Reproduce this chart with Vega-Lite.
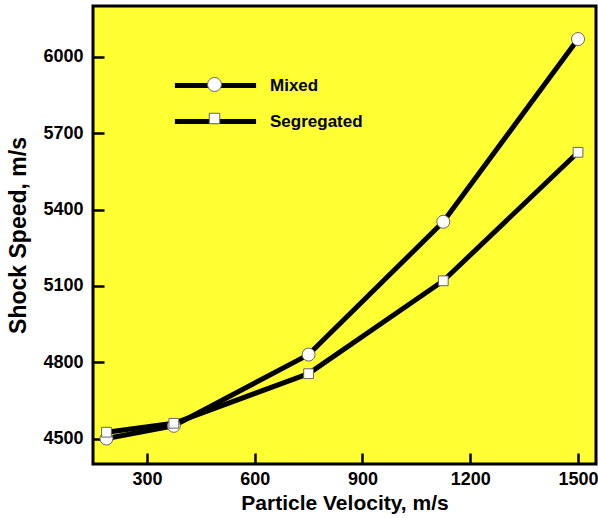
{
  "$schema": "https://vega.github.io/schema/vega-lite/v6.json",
  "width": 503,
  "height": 458,
  "autosize": "none",
  "padding": {"left": 93, "top": 6, "right": 2, "bottom": 54},
  "background": "white",
  "config": {
    "view": {"fill": "#FFFF33", "stroke": "black", "strokeWidth": 3},
    "font": "Liberation Sans",
    "axis": {
      "labelFont": "Liberation Sans",
      "labelFontWeight": "bold",
      "labelFontSize": 18,
      "labelColor": "black",
      "titleFont": "Liberation Sans",
      "titleFontWeight": "bold",
      "titleColor": "black",
      "grid": false,
      "domain": false,
      "tickColor": "black",
      "tickWidth": 2.5,
      "tickSize": -11,
      "format": "d"
    },
    "legend": {
      "labelFont": "Liberation Sans",
      "labelFontWeight": "bold",
      "labelFontSize": 17,
      "labelColor": "black"
    }
  },
  "data": {
    "values": [
      {"v": 187.5, "s": 4500, "series": "Mixed"},
      {"v": 375, "s": 4550, "series": "Mixed"},
      {"v": 750, "s": 4830, "series": "Mixed"},
      {"v": 1125, "s": 5352, "series": "Mixed"},
      {"v": 1500, "s": 6070, "series": "Mixed"},
      {"v": 187.5, "s": 4525, "series": "Segregated"},
      {"v": 375, "s": 4560, "series": "Segregated"},
      {"v": 750, "s": 4755, "series": "Segregated"},
      {"v": 1125, "s": 5120, "series": "Segregated"},
      {"v": 1500, "s": 5625, "series": "Segregated"}
    ]
  },
  "encoding": {
    "x": {
      "field": "v", "type": "quantitative",
      "scale": {"domain": [150, 1550], "nice": false, "zero": false},
      "axis": {"title": "Particle Velocity, m/s", "titleFontSize": 21, "values": [300, 600, 900, 1200, 1500], "labelPadding": 17, "titlePadding": 4}
    },
    "y": {
      "field": "s", "type": "quantitative",
      "scale": {"domain": [4400, 6200], "nice": false, "zero": false},
      "axis": {"title": "Shock Speed, m/s", "titleFontSize": 23, "values": [4500, 4800, 5100, 5400, 5700, 6000], "labelPadding": 21, "titlePadding": 12}
    }
  },
  "layer": [
    {
      "mark": {"type": "line", "strokeWidth": 5, "strokeJoin": "round"},
      "encoding": {
        "color": {
          "field": "series", "type": "nominal",
          "scale": {"range": ["black", "black"]},
          "legend": {
            "title": null, "orient": "none", "legendX": 113, "legendY": 70,
            "symbolType": "M-5.8,0H5.8", "symbolSize": 196, "symbolStrokeWidth": 1,
            "rowPadding": 15, "labelOffset": 45, "padding": 0, "zindex": 1,
            "encode": {"symbols": {"update": {"strokeWidth": {"value": 5}, "stroke": {"value": "black"}}}}
          }
        }
      }
    },
    {
      "mark": {"type": "point", "filled": true, "fill": "white", "stroke": "#666666", "strokeWidth": 1, "size": 169, "opacity": 1},
      "encoding": {
        "shape": {
          "field": "series", "type": "nominal",
          "scale": {"domain": ["Mixed", "Segregated"], "range": ["circle", "M-0.75,-0.75H0.75V0.75H-0.75Z"]},
          "legend": {
            "title": null, "orient": "none", "legendX": 113, "legendY": 70,
            "symbolSize": 196, "symbolStrokeWidth": 1,
            "rowPadding": 15, "labelOffset": 45, "padding": 0, "zindex": 2, "labelExpr": "''",
            "encode": {"symbols": {"update": {"fill": {"value": "white"}, "stroke": {"value": "#666666"}, "strokeWidth": {"value": 1}, "opacity": {"value": 1}}}}
          }
        }
      }
    }
  ]
}
